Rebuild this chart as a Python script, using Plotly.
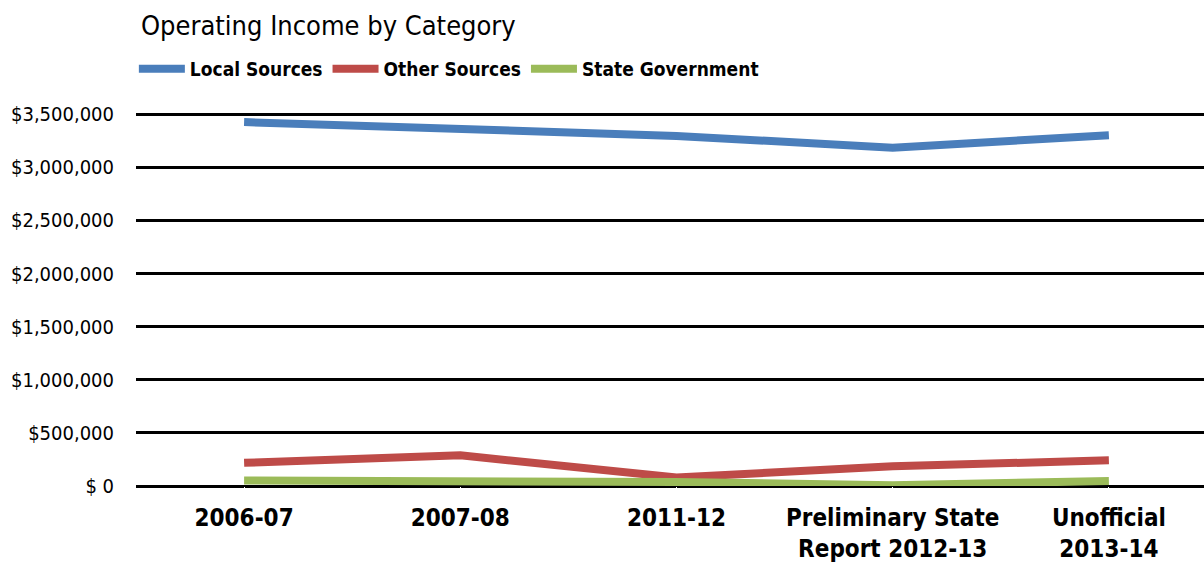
import plotly.graph_objects as go

categories = ["2006-07", "2007-08", "2011-12",
              "Preliminary State<br>Report 2012-13", "Unofficial<br>2013-14"]
local_sources = [3425000, 3360000, 3295000, 3184000, 3302000]
other_sources = [218000, 289000, 80000, 185000, 242000]
state_government = [52000, 54000, 38000, 8000, 47000]

tick_vals = [0, 500000, 1000000, 1500000, 2000000, 2500000, 3000000, 3500000]
tick_text = ["$ 0", "$500,000", "$1,000,000", "$1,500,000", "$2,000,000",
             "$2,500,000", "$3,000,000", "$3,500,000"]

NARROW = "DejaVu Sans Condensed, Liberation Sans Narrow, sans-serif"

series = [
    ("Local Sources", local_sources, "#4a7ebb"),
    ("Other Sources", other_sources, "#be4b48"),
    ("State Government", state_government, "#9bbb59"),
]

fig = go.Figure()
for name, vals, color in series:
    fig.add_trace(go.Scatter(
        x=list(range(len(categories))), y=vals, name=name, mode="lines",
        line=dict(color=color, width=8, shape="linear"),
    ))

fig.update_layout(
    width=1204, height=573,
    margin=dict(l=136, r=0, t=112, b=87),
    paper_bgcolor="white", plot_bgcolor="white",
    font=dict(family=NARROW, color="black"),
    title=dict(text="Operating Income by Category", x=0, xref="paper",
               xanchor="left", y=0.955, yanchor="middle", pad=dict(l=5),
               font=dict(size=27, family=NARROW)),
    legend=dict(orientation="h", x=-0.002, xanchor="left", y=1.115, yanchor="middle",
                font=dict(size=19, family=NARROW, weight="bold"),
                itemwidth=46, tracegroupgap=0, bgcolor="rgba(0,0,0,0)"),
    showlegend=True,
)
fig.update_xaxes(
    tickvals=list(range(len(categories))), ticktext=categories,
    range=[-0.5, 4.44], showgrid=False, zeroline=False, showline=False,
    tickfont=dict(size=24, family=NARROW, weight="bold"),
    ticks="outside", ticklen=10, tickcolor="white",
)
fig.update_yaxes(
    range=[0, 3520000], tickvals=tick_vals, ticktext=tick_text,
    showgrid=True, gridcolor="black", gridwidth=2.5,
    zeroline=True, zerolinecolor="black", zerolinewidth=2.5,
    showline=False, tickfont=dict(size=20, family=NARROW),
    ticklabelstandoff=21,
)

fig.write_html("out.html")
